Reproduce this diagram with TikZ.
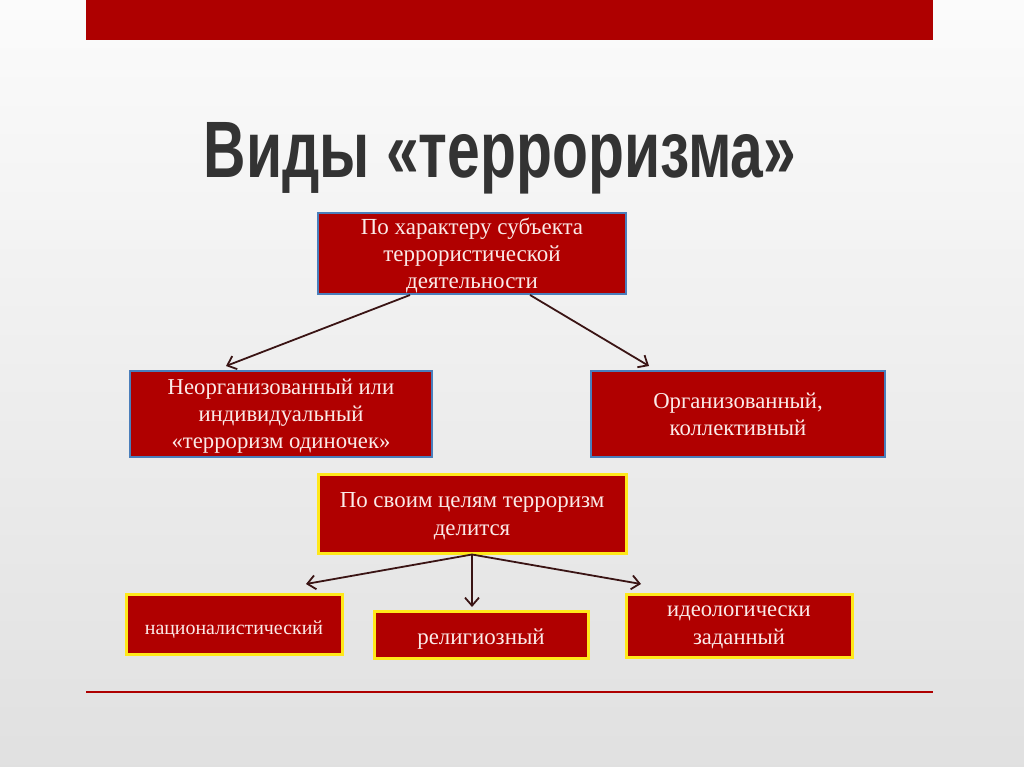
\documentclass[tikz,border=0pt]{standalone}
\usepackage{fontspec}
\setmainfont{Liberation Serif}
\newfontfamily\titlefont{Liberation Sans}
\usetikzlibrary{arrows.meta}
\definecolor{barred}{HTML}{AE0000}
\definecolor{boxred}{HTML}{B00000}
\definecolor{boxblue}{HTML}{4A7EBB}
\definecolor{boxyellow}{HTML}{FFE81A}
\definecolor{arrowbrown}{HTML}{3A1414}
\definecolor{textpink}{HTML}{FBEAE8}
\definecolor{titlegray}{HTML}{333333}

\begin{document}
\begin{tikzpicture}[x=1pt, y=-1pt,
    blue box/.style = {draw=boxblue, line width=2pt, fill=boxred, text=textpink, align=center, inner sep=0pt, text depth=-4pt, font=\fontsize{22.7}{27}\selectfont},
    gold box/.style = {draw=boxyellow, line width=3pt, fill=boxred, text=textpink, align=center, inner sep=0pt, text depth=-4pt, font=\fontsize{22.6}{28}\selectfont},
    one line/.style = {text depth=, execute at begin node={\rule{0pt}{25pt}}},
    arr/.style = {-{Straight Barb[length=8pt, width=14pt]}, line width=1.8pt, draw=arrowbrown}]
    \useasboundingbox (0,0) rectangle (1024,767);
    \shade[top color=gray!3, bottom color=gray!24] (0,0) rectangle (1024,767);
    \fill[barred] (86,0) rectangle (933,40);
    \draw[barred, line width=2pt] (86,692) -- (933,692);

    \node[text=titlegray] (title) at (500,158) {\scalebox{0.735}[1]{\titlefont\bfseries\fontsize{80}{80}\selectfont Виды «терроризма»}};

    \node[blue box, font=\fontsize{23}{27}\selectfont, minimum width=308pt, minimum height=81pt] (subject) at (472,253.5) {По характеру субъекта\\террористической\\деятельности};
    \node[blue box, minimum width=302pt, minimum height=86pt] (single) at (281,414) {Неорганизованный или\\индивидуальный\\«терроризм одиночек»};
    \node[blue box, minimum width=294pt, minimum height=86pt] (group) at (738,414) {Организованный,\\коллективный};

    \node[gold box, font=\fontsize{22.9}{28}\selectfont, minimum width=308pt, minimum height=79pt] (goals) at (472,513.5) {По своим целям терроризм\\делится};
    \node[gold box, one line, font=\fontsize{19.9}{22}\selectfont, minimum width=216pt, minimum height=60pt] (nation) at (234,624) {националистический};
    \node[gold box, one line, font=\fontsize{22.9}{26}\selectfont, minimum width=214pt, minimum height=47pt] (faith) at (481,634.5) {религиозный};
    \node[gold box, minimum width=226pt, minimum height=63pt] (idea) at (739,625.5) {идеологически\\заданный};

    \coordinate (single tip) at (226,366);
    \coordinate (group tip) at (649,366);
    \coordinate (nation tip) at (306,584);
    \coordinate (faith tip) at (472,607);
    \coordinate (idea tip) at (641,584);

    \draw[arr] ([xshift=-62pt]subject.south) -- (single tip);
    \draw[arr] ([xshift=58pt]subject.south) -- (group tip);
    \draw[arr] (goals.south) -- (nation tip);
    \draw[arr] (goals.south) -- (faith tip);
    \draw[arr] (goals.south) -- (idea tip);
\end{tikzpicture}
\end{document}
